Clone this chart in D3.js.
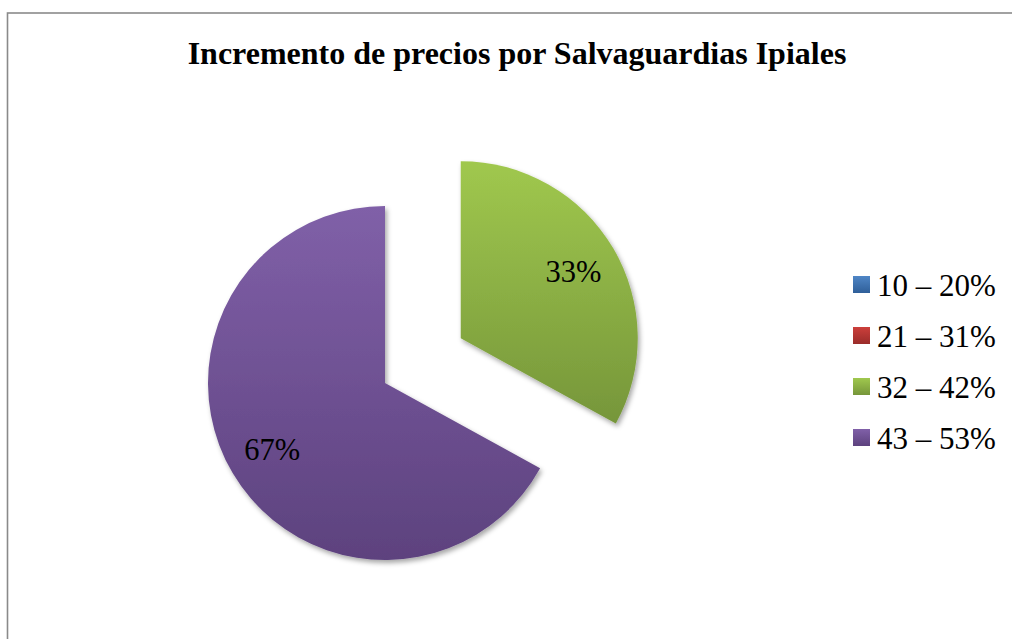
<!DOCTYPE html>
<html lang="es">
<head>
<meta charset="utf-8">
<title>Incremento de precios por Salvaguardias Ipiales</title>
<script src="https://cdn.jsdelivr.net/npm/d3@7"></script>
<style>
  body { margin: 0; background: #fff; }
</style>
</head>
<body>
<script>
// data
var categories = ["10 – 20%", "21 – 31%", "32 – 42%", "43 – 53%"];
var values = [0, 0, 33, 67];
var explodedIndex = [2];

var w = 1012, h = 639;
var cx = 385, cy = 383, r = 177;
var explodeDist = 88;

var colorsTop = ["#4f86c6", "#cc3f3b", "#a0c84e", "#8060a8"];
var colorsBottom = ["#2f5f99", "#9a2c2a", "#76963a", "#5d427e"];

var svg = d3.select("body").append("svg")
    .attr("width", w)
    .attr("height", h)
    .style("font-family", "'Liberation Serif', 'Times New Roman', serif");

var defs = svg.append("defs");

categories.forEach(function(c, i) {
  var g = defs.append("linearGradient")
      .attr("id", "grad" + i)
      .attr("x1", 0).attr("y1", 0).attr("x2", 0).attr("y2", 1);
  g.append("stop").attr("offset", "0%").attr("stop-color", colorsTop[i]);
  g.append("stop").attr("offset", "100%").attr("stop-color", colorsBottom[i]);
});

var shadow = defs.append("filter")
    .attr("id", "shadow")
    .attr("x", "-20%").attr("y", "-20%")
    .attr("width", "140%").attr("height", "140%");
shadow.append("feDropShadow")
    .attr("dx", 2).attr("dy", 3)
    .attr("stdDeviation", 2.5)
    .attr("flood-color", "#000")
    .attr("flood-opacity", 0.35);

// chart border
svg.append("rect")
    .attr("x", 7.5).attr("y", 13)
    .attr("width", w + 20).attr("height", h + 20)
    .attr("fill", "none")
    .attr("stroke", "#8a8a8a")
    .attr("stroke-width", 1.6);

// title
svg.append("text")
    .attr("x", 517)
    .attr("y", 64)
    .attr("text-anchor", "middle")
    .attr("font-size", "32px")
    .attr("font-weight", "bold")
    .text("Incremento de precios por Salvaguardias Ipiales");

var pie = d3.pie().sort(null).startAngle(0).endAngle(2 * Math.PI);
var arcs = pie(values);

var arc = d3.arc().innerRadius(0).outerRadius(r);
var labelArc = d3.arc().innerRadius(r * 0.74).outerRadius(r * 0.74);

function offset(d, i) {
  if (explodedIndex.indexOf(i) < 0) return [0, 0];
  var mid = (d.startAngle + d.endAngle) / 2;
  return [Math.sin(mid) * explodeDist, -Math.cos(mid) * explodeDist];
}

var slices = svg.append("g")
    .attr("transform", "translate(" + cx + "," + cy + ")");

slices.selectAll("path")
    .data(arcs)
    .enter()
    .filter(function(d) { return d.value > 0; })
    .append("path")
    .attr("d", arc)
    .attr("transform", function(d) {
      var o = offset(d, d.index);
      return "translate(" + o[0] + "," + o[1] + ")";
    })
    .attr("fill", function(d) { return "url(#grad" + d.index + ")"; })
    .attr("filter", "url(#shadow)");

slices.selectAll("text")
    .data(arcs.filter(function(d) { return d.value > 0; }))
    .enter()
    .append("text")
    .attr("transform", function(d) {
      var o = offset(d, d.index);
      var c = labelArc.centroid(d);
      return "translate(" + (c[0] + o[0]) + "," + (c[1] + o[1]) + ")";
    })
    .attr("text-anchor", "middle")
    .attr("dy", "0.35em")
    .attr("font-size", "30.5px")
    .attr("fill", "#000")
    .text(function(d) { return d.value + "%"; });

// legend
var legendY = d3.scalePoint()
    .domain(categories)
    .range([284.5, 437.5]);

var legend = svg.append("g");
var items = legend.selectAll("g")
    .data(categories)
    .enter()
    .append("g")
    .attr("transform", function(d) { return "translate(853," + legendY(d) + ")"; });

items.append("rect")
    .attr("x", 0).attr("y", -8.5)
    .attr("width", 17).attr("height", 17)
    .attr("fill", function(d, i) { return "url(#grad" + i + ")"; });

items.append("text")
    .attr("x", 24)
    .attr("y", 11.5)
    .attr("font-size", "31px")
    .attr("fill", "#000")
    .text(function(d) { return d; });
</script>
</body>
</html>
